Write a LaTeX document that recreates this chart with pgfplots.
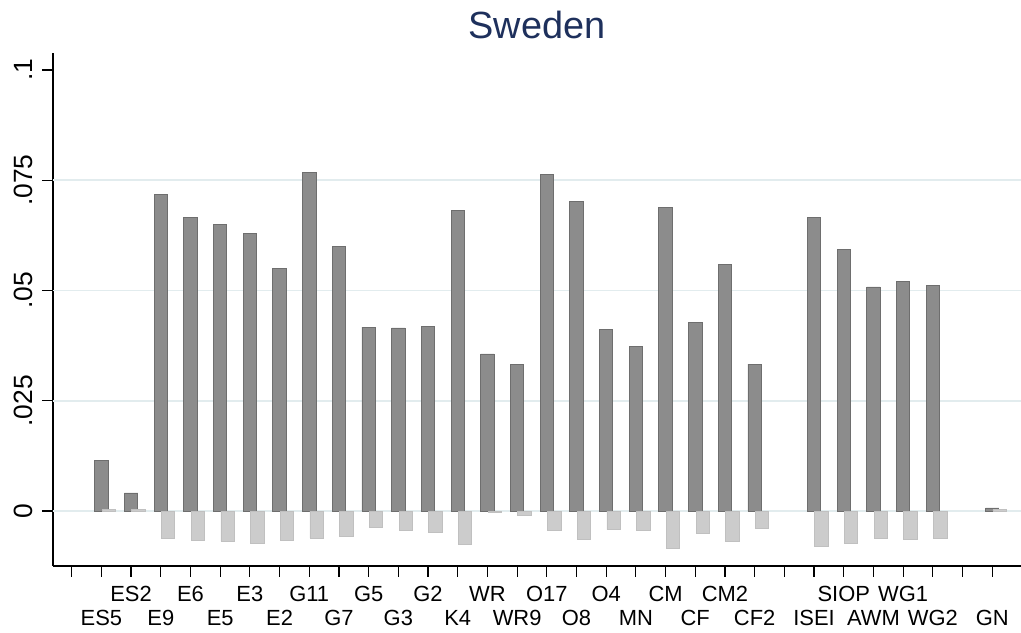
\documentclass[border=0pt]{standalone}
\usepackage{pgfplots}
\pgfplotsset{compat=1.18}
\usepackage{pgfplotstable}
\usepackage{fontspec}
\setmainfont{Liberation Sans}
\definecolor{darkbar}{RGB}{140,140,140}
\definecolor{darkedge}{RGB}{110,110,110}
\definecolor{lightbar}{RGB}{204,204,204}
\definecolor{lightedge}{RGB}{192,192,192}
\definecolor{gridc}{RGB}{226,236,238}
\definecolor{titlec}{RGB}{30,48,92}
\newcommand{\lo}[1]{\raisebox{-24bp}{#1}}
\pgfplotstableread{
x dark light
2 0.0115 0.0003
3 0.0041 0.0003
4 0.0718 -0.0063
5 0.0666 -0.0066
6 0.0650 -0.0069
7 0.0630 -0.0073
8 0.0550 -0.0066
9 0.0768 -0.0061
10 0.0600 -0.0058
11 0.0417 -0.0038
12 0.0415 -0.0045
13 0.0419 -0.0049
14 0.0682 -0.0076
15 0.0356 -0.0003
16 0.0333 -0.0011
17 0.0764 -0.0045
18 0.0702 -0.0064
19 0.0412 -0.0042
20 0.0374 -0.0044
21 0.0689 -0.0085
22 0.0428 -0.0051
23 0.0560 -0.0068
24 0.0333 -0.0039
26 0.0666 -0.0081
27 0.0594 -0.0073
28 0.0508 -0.0062
29 0.0521 -0.0064
30 0.0512 -0.0063
32 0.0007 0.0003
}\datatab
\begin{document}
\begin{tikzpicture}
\begin{axis}[
  name=ax,
  scale only axis,
  width=968bp, height=513bp,
  xmin=0.37, xmax=32.97,
  ymin=-0.01247, ymax=0.10385,
  axis x line*=bottom, axis y line*=left,
  axis line style={black, line width=1.2bp},
  tick style={black, line width=1.2bp},
  major tick length=11bp,
  tick align=outside,
  xtick={1,...,32},
  xticklabels={{},\lo{ES5},ES2,\lo{E9},E6,\lo{E5},E3,\lo{E2},G11,\lo{G7},G5,\lo{G3},G2,\lo{K4},WR,\lo{WR9},O17,\lo{O8},O4,\lo{MN},CM,\lo{CF},CM2,\lo{CF2},{},\lo{ISEI},SIOP,\lo{AWM},WG1,\lo{WG2},{},\lo{GN}},
  xticklabel style={anchor=base, font=\fontsize{22}{26}\selectfont, yshift=-25bp},
  ytick={0,0.025,0.05,0.075,0.1},
  yticklabels={0,.025,.05,.075,.1},
  yticklabel shift=6bp,
  yticklabel style={rotate=90, anchor=south, font=\fontsize{26.5}{30}\selectfont},
  extra y ticks={0,0.025,0.05,0.075},
  extra y tick labels={},
  extra y tick style={grid=major, major grid style={gridc, line width=1.8bp}, major tick length=0pt},
  title={Sweden},
  title style={font=\fontsize{38}{44}\selectfont, color=titlec, anchor=base, at={(0.5,1)}, yshift=9bp},
  clip=false,
]
\addplot[ybar, bar width=0.45, bar shift=0pt, fill=darkbar, draw=darkedge, line width=0.8bp] table[x=x, y=dark]{\datatab};
\addplot[ybar, bar width=0.45, bar shift=0pt, fill=lightbar, draw=lightedge, line width=0.8bp] table[x expr=\thisrow{x}+0.25, y=light]{\datatab};
\end{axis}
\pgfresetboundingbox
\path ([shift={(-53bp,-67bp)}]ax.south west) rectangle ([shift={(0bp,53bp)}]ax.north east);
\end{tikzpicture}
\end{document}
